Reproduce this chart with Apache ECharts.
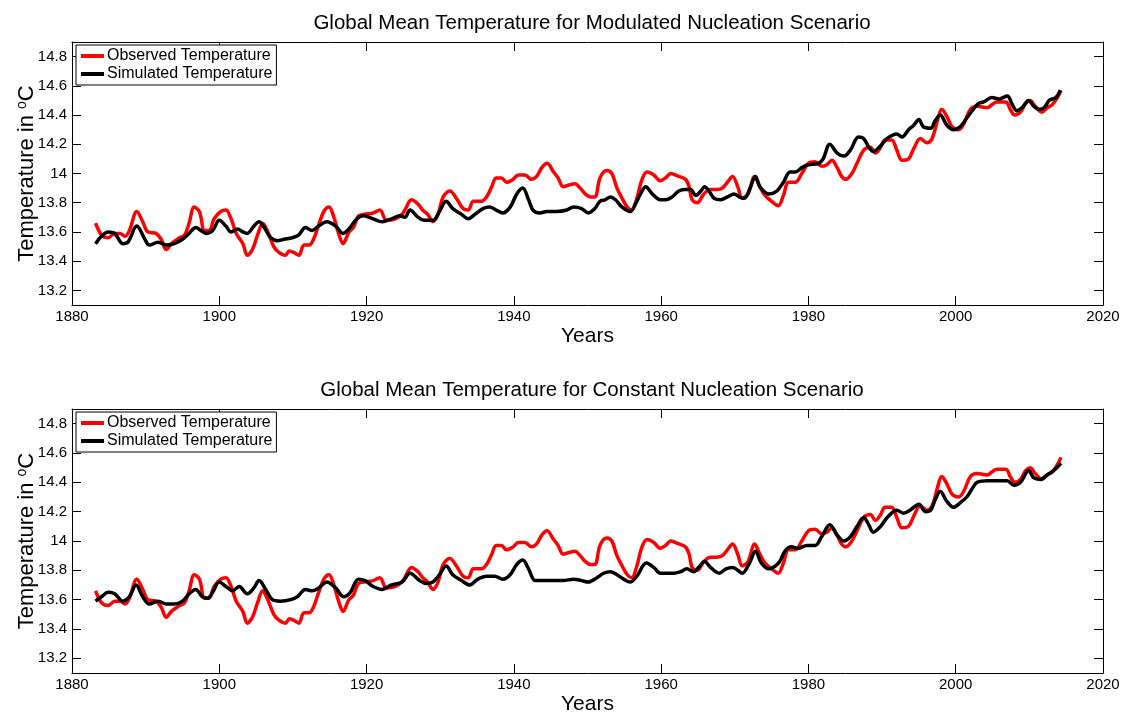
<!DOCTYPE html>
<html>
<head>
<meta charset="utf-8">
<script src="https://cdn.jsdelivr.net/npm/echarts@6/dist/echarts.min.js"></script>
<style>
html,body{margin:0;padding:0;background:#fff;}
#chart{width:1124px;height:715px;}
</style>
</head>
<body>
<div id="chart"></div>
<script>
// ---- Data ----
const obsYears = [1883.2,1884.0,1884.9,1885.8,1886.5,1887.2,1887.8,1888.8,1889.6,1890.3,1891.4,1892.1,1892.8,1893.5,1894.6,1895.3,1895.9,1896.6,1897.3,1898.0,1898.6,1899.3,1900.2,1900.9,1901.6,1902.3,1903.2,1903.8,1904.5,1905.2,1905.9,1906.5,1907.4,1908.1,1909.0,1909.5,1910.1,1910.8,1911.5,1912.2,1912.8,1913.5,1914.2,1914.9,1915.5,1916.2,1916.8,1917.6,1918.2,1918.9,1919.6,1920.9,1921.8,1922.7,1923.9,1924.8,1925.2,1926.1,1927.0,1927.6,1928.3,1929.0,1929.7,1930.4,1931.3,1932.2,1933.1,1933.8,1934.5,1935.6,1936.3,1937.0,1937.6,1938.3,1939.0,1939.9,1940.6,1941.5,1942.4,1943.1,1943.8,1944.5,1945.4,1946.0,1946.7,1947.4,1948.3,1949.0,1949.7,1950.4,1951.0,1951.7,1952.6,1953.3,1954.0,1954.7,1955.4,1956.0,1956.7,1957.4,1958.1,1959.0,1959.9,1960.6,1961.3,1962.4,1963.3,1963.8,1964.2,1964.9,1965.8,1966.7,1967.6,1968.3,1969.0,1969.7,1970.4,1971.0,1971.8,1972.7,1973.4,1974.1,1975.0,1975.9,1976.6,1977.3,1978.2,1979.1,1980.0,1980.9,1981.8,1982.5,1983.2,1983.9,1984.5,1985.1,1985.9,1986.6,1987.5,1988.4,1989.1,1989.8,1990.4,1991.3,1992.0,1992.7,1993.6,1994.3,1995.2,1996.1,1996.8,1997.5,1998.1,1998.8,1999.5,2000.4,2001.1,2002.0,2002.9,2004.3,2004.9,2005.6,2006.8,2007.4,2008.0,2008.8,2009.5,2010.1,2010.8,2011.7,2012.4,2013.1,2013.8,2014.3];
const obsTemp = [13.66,13.58,13.56,13.59,13.59,13.57,13.61,13.74,13.67,13.60,13.59,13.55,13.48,13.52,13.56,13.58,13.66,13.77,13.74,13.61,13.61,13.69,13.74,13.75,13.69,13.59,13.52,13.44,13.48,13.58,13.66,13.61,13.50,13.46,13.44,13.47,13.46,13.44,13.51,13.51,13.55,13.65,13.74,13.77,13.71,13.59,13.52,13.60,13.63,13.71,13.72,13.73,13.75,13.68,13.69,13.72,13.75,13.82,13.79,13.75,13.72,13.67,13.72,13.84,13.88,13.83,13.76,13.75,13.81,13.81,13.84,13.91,13.97,13.97,13.94,13.96,13.99,13.99,13.96,13.98,14.04,14.07,14.01,13.97,13.91,13.92,13.93,13.90,13.86,13.84,13.84,13.97,14.02,14.00,13.90,13.83,13.77,13.75,13.83,13.96,14.01,13.99,13.95,13.97,14.00,13.98,13.96,13.91,13.82,13.80,13.86,13.89,13.89,13.90,13.94,13.98,13.91,13.83,13.86,13.98,13.91,13.85,13.81,13.78,13.85,13.94,13.94,14.00,14.07,14.08,14.05,14.06,14.09,14.04,13.98,13.96,14.00,14.07,14.16,14.18,14.14,14.18,14.23,14.23,14.16,14.09,14.10,14.17,14.24,14.21,14.24,14.36,14.44,14.39,14.32,14.30,14.34,14.44,14.46,14.45,14.47,14.49,14.49,14.44,14.40,14.42,14.48,14.50,14.46,14.42,14.45,14.47,14.52,14.57];

const simModYears = [1883.2,1884.0,1884.9,1885.8,1886.9,1887.6,1888.8,1889.9,1890.5,1891.7,1892.8,1893.9,1895.0,1895.9,1896.8,1897.5,1898.2,1899.1,1900.0,1900.9,1901.6,1902.5,1903.2,1903.8,1904.7,1905.4,1906.1,1907.0,1907.9,1908.8,1909.9,1910.8,1911.7,1912.6,1913.5,1914.6,1915.8,1916.8,1917.6,1918.7,1919.6,1920.9,1922.1,1923.4,1924.5,1925.2,1925.9,1927.0,1927.9,1929.0,1929.9,1930.8,1931.7,1932.9,1933.8,1934.7,1935.8,1936.7,1937.6,1938.5,1939.5,1940.4,1941.2,1942.0,1942.6,1943.5,1944.5,1945.8,1947.2,1948.1,1949.2,1950.1,1951.0,1951.7,1952.4,1953.1,1953.8,1954.7,1955.8,1956.5,1957.2,1957.9,1958.8,1959.9,1960.6,1961.5,1962.4,1963.3,1964.0,1964.7,1965.4,1965.9,1966.5,1967.2,1968.1,1969.0,1969.9,1970.6,1971.3,1972.0,1972.8,1973.4,1974.6,1975.7,1976.6,1977.5,1978.2,1979.1,1980.0,1981.4,1982.0,1982.9,1983.9,1984.8,1985.7,1986.8,1987.5,1988.2,1988.8,1989.8,1990.7,1992.0,1992.7,1993.6,1994.3,1995.0,1995.6,1996.6,1997.2,1997.9,1998.8,1999.7,2000.6,2001.5,2002.4,2003.1,2003.8,2004.9,2005.9,2007.0,2007.7,2008.3,2009.0,2009.9,2010.6,2011.3,2012.0,2012.7,2013.6,2014.2];
const simModTemp = [13.52,13.57,13.60,13.59,13.52,13.53,13.64,13.55,13.51,13.53,13.51,13.52,13.55,13.59,13.63,13.61,13.59,13.61,13.68,13.64,13.60,13.62,13.60,13.59,13.64,13.67,13.63,13.56,13.54,13.55,13.56,13.58,13.63,13.61,13.64,13.67,13.64,13.59,13.62,13.69,13.71,13.69,13.67,13.69,13.71,13.70,13.75,13.70,13.68,13.68,13.74,13.81,13.76,13.72,13.69,13.72,13.76,13.77,13.75,13.73,13.77,13.86,13.90,13.82,13.75,13.73,13.74,13.74,13.75,13.77,13.76,13.73,13.76,13.81,13.82,13.84,13.82,13.77,13.74,13.79,13.86,13.91,13.86,13.82,13.82,13.84,13.88,13.89,13.89,13.85,13.88,13.91,13.88,13.83,13.82,13.84,13.86,13.84,13.83,13.89,13.98,13.91,13.86,13.88,13.94,14.01,14.01,14.04,14.06,14.07,14.10,14.20,14.14,14.12,14.16,14.25,14.24,14.18,14.15,14.19,14.24,14.27,14.25,14.30,14.33,14.37,14.32,14.31,14.36,14.40,14.33,14.30,14.32,14.38,14.44,14.48,14.49,14.52,14.51,14.53,14.47,14.43,14.45,14.50,14.46,14.44,14.45,14.50,14.52,14.57];

const simConYears = [1883.2,1884.0,1884.9,1885.8,1886.9,1887.8,1888.7,1889.6,1890.5,1891.7,1892.8,1893.9,1895.0,1895.9,1896.8,1897.7,1898.4,1899.1,1900.0,1900.9,1901.8,1902.7,1903.8,1904.7,1905.4,1906.3,1907.2,1908.3,1909.7,1910.6,1911.7,1912.6,1913.5,1914.6,1915.8,1916.9,1917.8,1918.9,1919.8,1920.9,1922.1,1923.4,1924.8,1925.9,1927.2,1928.1,1929.0,1929.9,1930.8,1931.7,1932.9,1934.0,1935.1,1936.3,1937.4,1938.5,1939.5,1940.4,1941.2,1942.0,1942.9,1944.0,1945.4,1946.7,1948.1,1949.2,1950.1,1951.3,1952.2,1953.1,1954.0,1954.9,1955.8,1956.7,1958.0,1959.0,1959.9,1961.7,1962.6,1963.5,1964.4,1965.1,1965.9,1966.7,1967.9,1968.8,1969.7,1970.4,1971.0,1972.0,1972.8,1973.6,1974.6,1975.5,1976.1,1976.8,1977.7,1978.6,1979.8,1980.9,1981.8,1982.9,1983.9,1984.8,1985.7,1986.6,1987.5,1988.2,1988.8,1989.8,1990.7,1992.0,1992.9,1993.8,1995.0,1995.9,1996.6,1997.2,1997.9,1998.8,1999.7,2000.6,2001.5,2002.4,2002.9,2004.3,2005.2,2006.3,2007.0,2007.9,2008.8,2009.9,2010.6,2011.5,2012.4,2013.3,2014.3];
const simConTemp = [13.59,13.62,13.65,13.64,13.59,13.62,13.70,13.62,13.57,13.59,13.57,13.57,13.59,13.64,13.67,13.62,13.61,13.65,13.72,13.69,13.66,13.69,13.64,13.68,13.73,13.67,13.60,13.59,13.60,13.62,13.67,13.66,13.68,13.72,13.68,13.62,13.65,13.74,13.73,13.69,13.67,13.70,13.72,13.78,13.73,13.71,13.72,13.77,13.83,13.77,13.73,13.70,13.74,13.76,13.76,13.74,13.77,13.84,13.87,13.81,13.73,13.73,13.73,13.73,13.74,13.73,13.72,13.75,13.78,13.79,13.77,13.74,13.72,13.76,13.85,13.82,13.78,13.78,13.79,13.81,13.79,13.82,13.86,13.82,13.78,13.81,13.82,13.80,13.78,13.85,13.93,13.85,13.81,13.83,13.86,13.93,13.96,13.95,13.97,13.97,14.03,14.11,14.04,14.00,14.03,14.10,14.16,14.11,14.06,14.10,14.16,14.21,14.19,14.21,14.25,14.20,14.21,14.28,14.34,14.27,14.23,14.26,14.30,14.37,14.40,14.41,14.41,14.41,14.41,14.38,14.40,14.48,14.43,14.42,14.45,14.48,14.53];

const titles = ['Global Mean Temperature for Modulated Nucleation Scenario','Global Mean Temperature for Constant Nucleation Scenario'];
const seriesNames = ['Observed Temperature','Simulated Temperature'];
const xTickYears = [1880,1900,1920,1940,1960,1980,2000,2020];
const yTickValues = [13.2,13.4,13.6,13.8,14.0,14.2,14.4,14.6,14.8];

// ---- Build ----
const FONT = "'Liberation Sans', Arial, Helvetica, sans-serif";
const pairs = (xs, ys) => xs.map((x, i) => [x, ys[i]]);
const obsData = pairs(obsYears, obsTemp);
const simMod = pairs(simModYears, simModTemp);
const simCon = pairs(simConYears, simConTemp);

const grids = [
  {left: 72, top: 42, width: 1031, height: 263, outerBoundsMode: 'none', containLabel: false},
  {left: 72, top: 409, width: 1031, height: 264, outerBoundsMode: 'none', containLabel: false}
];

const xAxes = [], yAxes = [];
grids.forEach((g, i) => {
  xAxes.push({
    gridIndex: i, type: 'value', min: xTickYears[0], max: xTickYears[xTickYears.length-1], interval: 20,
    position: 'bottom',
    axisLine: {show: true, onZero: false, lineStyle: {color: '#000', width: 1}},
    axisTick: {show: true, inside: true, length: 9, lineStyle: {color: '#000'}},
    axisLabel: {color: '#000', fontSize: 15, fontFamily: FONT, margin: 4, formatter: v => String(Math.round(v))},
    splitLine: {show: false},
    name: 'Years', nameLocation: 'middle', nameGap: 21,
    nameTextStyle: {color: '#000', fontSize: 21, fontFamily: FONT}
  });
  xAxes.push({
    gridIndex: i, type: 'value', min: xTickYears[0], max: xTickYears[xTickYears.length-1], interval: 20,
    position: 'top',
    axisLine: {show: true, onZero: false, lineStyle: {color: '#000', width: 1}},
    axisTick: {show: true, inside: true, length: 9, lineStyle: {color: '#000'}},
    axisLabel: {show: false}, splitLine: {show: false}
  });
  yAxes.push({
    gridIndex: i, type: 'value', min: 13.1, max: 14.9,
    position: 'left',
    axisLine: {show: true, onZero: false, lineStyle: {color: '#000', width: 1}},
    axisTick: {show: true, inside: true, length: 9, customValues: yTickValues, lineStyle: {color: '#000'}},
    axisLabel: {color: '#000', fontSize: 15, fontFamily: FONT, margin: 5, customValues: yTickValues,
      formatter: v => String(+(+v).toFixed(1))},
    splitLine: {show: false},
    name: 'Temperature in {sup|o}C', nameLocation: 'middle', nameGap: 34, nameRotate: 90,
    nameMoveOverlap: false,
    nameTextStyle: {color: '#000', fontSize: 22, fontFamily: FONT,
      rich: {sup: {fontSize: 14, fontFamily: FONT, color: '#000', verticalAlign: 'top', padding: [0, 0, 9, 0]}}}
  });
  yAxes.push({
    gridIndex: i, type: 'value', min: 13.1, max: 14.9,
    position: 'right',
    axisLine: {show: true, onZero: false, lineStyle: {color: '#000', width: 1}},
    axisTick: {show: true, inside: true, length: 9, customValues: yTickValues, lineStyle: {color: '#000'}},
    axisLabel: {show: false}, splitLine: {show: false}
  });
});

const mkSeries = (name, data, gi, color, width, z) => ({
  name, type: 'line', data, xAxisIndex: gi*2, yAxisIndex: gi*2,
  showSymbol: false, symbol: 'none', smooth: 0.35, color, z,
  lineStyle: {color, width}, animation: false
});

const series = [
  mkSeries(seriesNames[0], obsData, 0, '#ff0000', 3.5, 2),
  mkSeries(seriesNames[1], simMod, 0, '#000000', 3.5, 3),
  mkSeries(seriesNames[0], obsData, 1, '#ff0000', 3.5, 2),
  mkSeries(seriesNames[1], simCon, 1, '#000000', 3.5, 3)
];

const legendCommon = {
  orient: 'vertical', left: 76, data: seriesNames,
  backgroundColor: '#fff', borderColor: '#000', borderWidth: 1,
  padding: [3, 4, 3, 5], itemGap: 2, itemWidth: 23, itemHeight: 4, icon: 'rect',
  textStyle: {color: '#000', fontSize: 16, fontFamily: FONT, padding: [0, 0, 0, -2]},
  selectedMode: false
};

const option = {
  backgroundColor: '#fff',
  animation: false,
  title: [
    {text: titles[0], left: 587, top: 8, textAlign: 'center', textStyle: {color: '#000', fontSize: 20.5, fontWeight: 'normal', fontFamily: FONT}},
    {text: titles[1], left: 587, top: 375, textAlign: 'center', textStyle: {color: '#000', fontSize: 20.5, fontWeight: 'normal', fontFamily: FONT}}
  ],
  legend: [
    Object.assign({}, legendCommon, {top: 45}),
    Object.assign({}, legendCommon, {top: 412})
  ],
  grid: grids,
  xAxis: xAxes,
  yAxis: yAxes,
  series
};

const chart = echarts.init(document.getElementById('chart'), null, {renderer: 'canvas'});
chart.setOption(option);
</script>
</body>
</html>
